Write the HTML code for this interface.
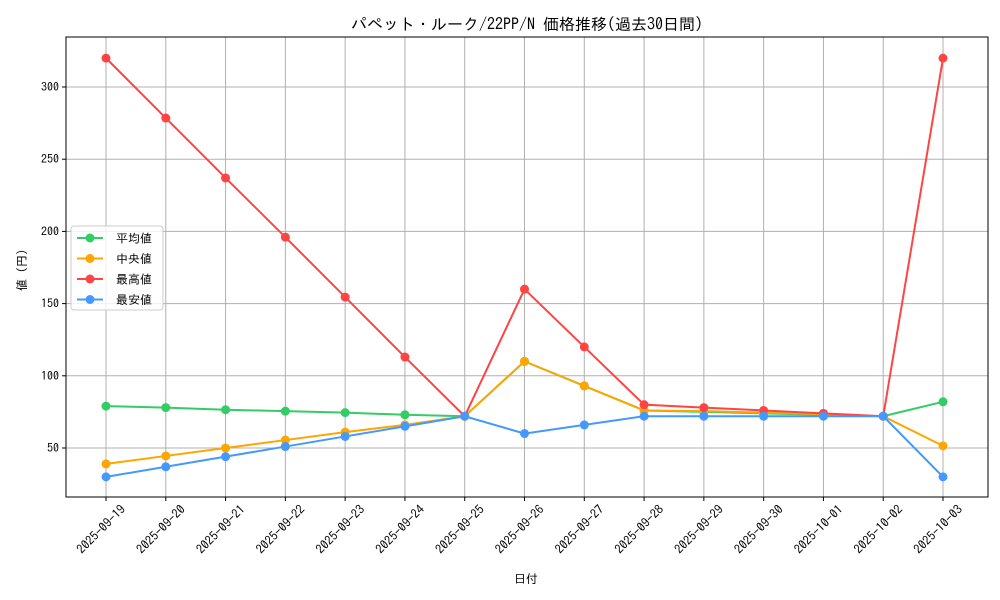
<!DOCTYPE html>
<html><head><meta charset="utf-8"><style>body{margin:0;background:#fff}svg{display:block;font-family:"IPAGothic","Liberation Sans","Noto Sans CJK JP",sans-serif}</style></head>
<body>
<svg width="1000" height="600" xmlns="http://www.w3.org/2000/svg">
<rect width="1000" height="600" fill="#fff"/>
<text x="527" y="30" text-anchor="middle" font-size="16">パペット・ルーク/22PP/N 価格推移(過去30日間)</text>
<g id="grid" stroke="#b0b0b0" stroke-width="1"></g>
<rect x="66" y="37" width="922" height="460" fill="none" stroke="#000" stroke-width="1"/>
<g id="yt" font-size="12"></g>
<g id="xt" font-size="12.5"></g>
<text x="526" y="583" text-anchor="middle" font-size="12">日付</text>
<text transform="translate(26,270) rotate(-90)" text-anchor="middle" font-size="12">値 (円)</text>
<g id="series"></g>
<g id="legend">
<rect x="71" y="226" width="92" height="84" fill="#fff" fill-opacity="0.8" stroke="#ccc" rx="3"/>
</g>
</svg>
<script>
const ns="http://www.w3.org/2000/svg";
function el(p,t,a,txt){const e=document.createElementNS(ns,t);for(const k in a)e.setAttribute(k,a[k]);if(txt)e.textContent=txt;document.getElementById(p).appendChild(e);return e;}
const X=i=>106+i*59.786, Y=v=>448-(v-50)*1.444;
const dates=["2025-09-19","2025-09-20","2025-09-21","2025-09-22","2025-09-23","2025-09-24","2025-09-25","2025-09-26","2025-09-27","2025-09-28","2025-09-29","2025-09-30","2025-10-01","2025-10-02","2025-10-03"];
dates.forEach((d,i)=>{const x=X(i);el("grid","line",{x1:x,x2:x,y1:37,y2:497});el("xt","line",{x1:x,x2:x,y1:497,y2:501,stroke:"#000"});
el("xt","text",{transform:`translate(${x+14},${504}) rotate(-45)`,"text-anchor":"end","dominant-baseline":"hanging"},d);});
[50,100,150,200,250,300].forEach(v=>{const y=Y(v);el("grid","line",{x1:66,x2:988,y1:y,y2:y});el("yt","line",{x1:62,x2:66,y1:y,y2:y,stroke:"#000"});
el("yt","text",{x:59,y:y+4,"text-anchor":"end"},String(v));});
const S=[
["#33cc66",[79,78,76.5,75.5,74.5,73,72,110,93,76,75,74,73,72,82],"平均値"],
["#ffa500",[39,44.5,50,55.5,61,66,72,110,93,76,75.5,74.5,73.5,72,51.5],"中央値"],
["#ff4444",[320,278.5,237,196,154.5,113,72,160,120,80,78,76,74,72,320],"最高値"],
["#4499ff",[30,37,44,51,58,65,72,60,66,72,72,72,72,72,30],"最安値"]];
S.forEach(([c,d,n],k)=>{el("series","polyline",{points:d.map((v,i)=>X(i)+","+Y(v)).join(" "),fill:"none",stroke:c,"stroke-width":2});
d.forEach((v,i)=>el("series","circle",{cx:X(i),cy:Y(v),r:4.5,fill:c}));
const ly=238+k*20.5;el("legend","line",{x1:77,x2:103,y1:ly,y2:ly,stroke:c,"stroke-width":2});el("legend","circle",{cx:90,cy:ly,r:4.5,fill:c});
el("legend","text",{x:116,y:ly+4.5,"font-size":12},n);});
</script>
</body></html>
